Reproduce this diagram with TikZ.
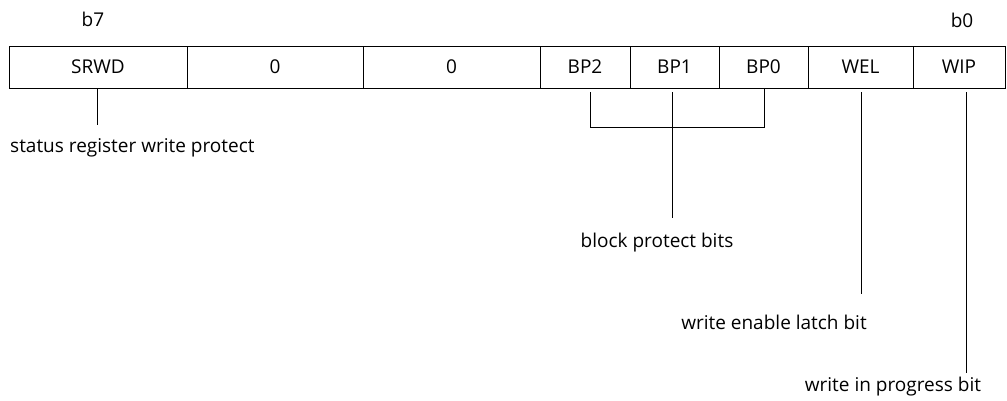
\documentclass[tikz,border=0pt]{standalone}
\usepackage{fontspec}
\setmainfont{Open Sans}
\usetikzlibrary{positioning, calc}

\begin{document}
\begin{tikzpicture}[
    x=1pt, y=-1pt,
    font=\fontsize{19}{22}\selectfont,
    cell/.style={draw, rectangle, minimum height=42pt, inner sep=0pt,
        line width=0.8pt},
    note/.style={inner sep=0pt},
    lead/.style={line width=0.8pt},
]
\useasboundingbox (0,0) rectangle (1007,400);

% === Bit numbers ===
\node[note] (b7) at (93,19) {b7};
\node[note] (b0) at (962,20) {b0};

% === Register cells ===
\node[cell, minimum width=178pt] (srwd) at (98,67) {SRWD};
\node[cell, minimum width=176pt] (zeroa) at (275,67) {0};
\node[cell, minimum width=177pt] (zerob) at (451.5,67) {0};
\node[cell, minimum width=90pt] (bp2) at (585,67) {BP2};
\node[cell, minimum width=89pt] (bp1) at (674.5,67) {BP1};
\node[cell, minimum width=89pt] (bp0) at (763.5,67) {BP0};
\node[cell, minimum width=105pt] (wel) at (860.5,67) {WEL};
\node[cell, minimum width=92pt] (wip) at (959,67) {WIP};

% === Descriptions ===
\node[note, anchor=west] (srwdtxt) at (10,148) {status register write protect};
\node[note] (bptxt) at (657,243) {block protect bits};
\node[note] (weltxt) at (774,322) {write enable latch bit};
\node[note] (wiptxt) at (893,387) {write in progress bit};

% === Leader lines ===
\coordinate (srwdend) at (97,125);
\coordinate (bp2end) at (590,127);
\coordinate (bp0end) at (764,127);
\coordinate (bp1end) at (672,218);
\coordinate (welend) at (861,294);
\coordinate (wipend) at (966,373);
\draw[lead] (srwdend |- srwd.south) -- (srwdend);
\draw[lead] ([yshift=-4pt]bp2end |- bp2.south) -- (bp2end) -- (bp0end)
    -- (bp0end |- bp0.south);
\draw[lead] ([yshift=-4pt]bp1end |- bp1.south) -- (bp1end);
\draw[lead] ([yshift=-4pt]welend |- wel.south) -- (welend);
\draw[lead] ([yshift=-4pt]wipend |- wip.south) -- (wipend);

\end{tikzpicture}
\end{document}
